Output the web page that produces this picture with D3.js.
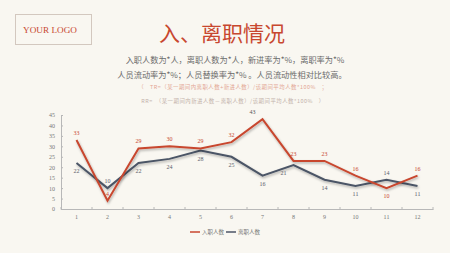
<!DOCTYPE html>
<html><head><meta charset="utf-8">
<script src="https://cdn.jsdelivr.net/npm/d3@7/dist/d3.min.js"></script>
<style>html,body{margin:0;padding:0;background:#f9f7f1;}svg{display:block;}</style>
</head><body>
<script>
const months = ["1","2","3","4","5","6","7","8","9","10","11","12"];
const hires = [33,4,29,30,29,32,43,23,23,16,10,16];
const leaves = [22,10,22,24,28,25,16,21,14,11,14,11];
const yTicks = [0,5,10,15,20,25,30,35,40,45];
const seriesNames = ["入职人数","离职人数"];
const hireLabelSide = ["t","t","t","t","t","t","tl","t","t","t","b","t"];
const leaveLabelSide = ["b","t","b","b","b","b","b","bl","b","b","t","b"];

const W=450,H=253;
const RED="#c8472f", GRAY="#4b5566";
const svg=d3.select("body").append("svg").attr("width",W).attr("height",H);
svg.append("rect").attr("width",W).attr("height",H).attr("fill","#f9f7f1");
const cjk="'Noto Sans CJK SC','Noto Sans',sans-serif";

// logo
svg.append("rect").attr("x",15.5).attr("y",14.5).attr("width",76).attr("height",30)
  .attr("fill","none").attr("stroke","#d3c8bf").attr("stroke-width",1);
svg.append("text").attr("x",50).attr("y",32.5).attr("text-anchor","middle")
  .attr("font-family","'Liberation Serif',serif").attr("font-size",9.2).attr("fill",RED).text("YOUR  LOGO");

// title
svg.append("text").attr("x",222).attr("y",41).attr("text-anchor","middle")
  .attr("font-family",cjk).attr("font-size",21).attr("fill",RED).text("入、离职情况");

const lines=[
 {t:"入职人数为*人，离职人数为*人，新进率为*%，离职率为*%",x:235,y:63,s:8.2,c:"#6b6b6b",ls:0},
 {t:"人员流动率为*%；人员替换率为*% 。人员流动性相对比较高。",x:232,y:78,s:8.2,c:"#6b6b6b",ls:0},
 {t:"（　TR=（某一期间内离职人数+新进人数）/该期间平均人数*100%　；",x:233,y:89,s:5.4,c:"#e3a693",ls:0.5},
 {t:"RR=　（某一期间内新进人数－离职人数）/该期间平均人数*100%　）",x:233,y:103,s:5.4,c:"#c3b2aa",ls:0.5}
];
lines.forEach(l=>svg.append("text").attr("x",l.x).attr("y",l.y).attr("text-anchor","middle")
  .attr("letter-spacing",l.ls)
  .attr("font-family",cjk).attr("font-size",l.s).attr("fill",l.c).text(l.t));

// chart
const x=d3.scaleBand().domain(months).range([61,433]);
const y=d3.scaleLinear().domain([0,45]).range([209,115]);
const axisColor="#b8b8b8";
const gx=svg.append("g").attr("transform","translate(0,209)")
  .call(d3.axisBottom(x).tickSize(0).tickPadding(6));
gx.select(".domain").attr("stroke",axisColor);
gx.selectAll("text").attr("font-family","'Liberation Serif',serif").attr("font-size",6).attr("fill","#777");
const seps=months.map(m=>x(m)).concat([x.range()[1]]);
svg.append("g").selectAll("line").data(seps).join("line")
  .attr("x1",d=>d).attr("x2",d=>d).attr("y1",207).attr("y2",209.5).attr("stroke",axisColor);

const gy=svg.append("g").attr("transform","translate(61,0)")
  .call(d3.axisLeft(y).tickValues(yTicks).tickSize(-2).tickPadding(6));
gy.select(".domain").attr("stroke",axisColor);
gy.selectAll(".tick line").attr("stroke",axisColor);
gy.selectAll("text").attr("font-family","'Liberation Serif',serif").attr("font-size",6).attr("fill","#777");

const defs=svg.append("defs");
const f=defs.append("filter").attr("id","sh").attr("x","-10%").attr("y","-10%").attr("width","120%").attr("height","130%");
f.append("feDropShadow").attr("dx",0.8).attr("dy",1.5).attr("stdDeviation",0.9).attr("flood-color","#000").attr("flood-opacity",0.3);

const line=d3.line().x((d,i)=>x(months[i])+x.bandwidth()/2).y(d=>y(d));
svg.append("path").datum(leaves).attr("d",line).attr("fill","none").attr("stroke",GRAY)
  .attr("stroke-width",2).attr("filter","url(#sh)");
svg.append("path").datum(hires).attr("d",line).attr("fill","none").attr("stroke",RED)
  .attr("stroke-width",2).attr("filter","url(#sh)");

function labels(data,sides,color){
  svg.append("g").selectAll("text").data(data).join("text")
    .attr("x",(d,i)=>x(months[i])+x.bandwidth()/2+(sides[i].includes("l")?-10:0))
    .attr("y",(d,i)=>y(d)+(sides[i][0]==="t"?-5:10))
    .attr("text-anchor","middle").attr("font-family","'Liberation Serif',serif")
    .attr("font-size",6).attr("fill",(d,i)=>sides[i]==="tl"?"#555":color).text(d=>d);
}
labels(hires,hireLabelSide,RED);
labels(leaves,leaveLabelSide,"#59606b");

const lg=svg.append("g").attr("transform","translate(0,232)");
[[RED,190,seriesNames[0],202],[GRAY,226,seriesNames[1],238]].forEach(([c,lx,t,tx])=>{
  lg.append("line").attr("x1",lx).attr("x2",lx+10).attr("y1",0).attr("y2",0).attr("stroke",c).attr("stroke-width",1.5);
  lg.append("text").attr("x",tx).attr("y",2).attr("font-family",cjk).attr("font-size",5.5).attr("fill","#777").text(t);
});
</script>
</body></html>
